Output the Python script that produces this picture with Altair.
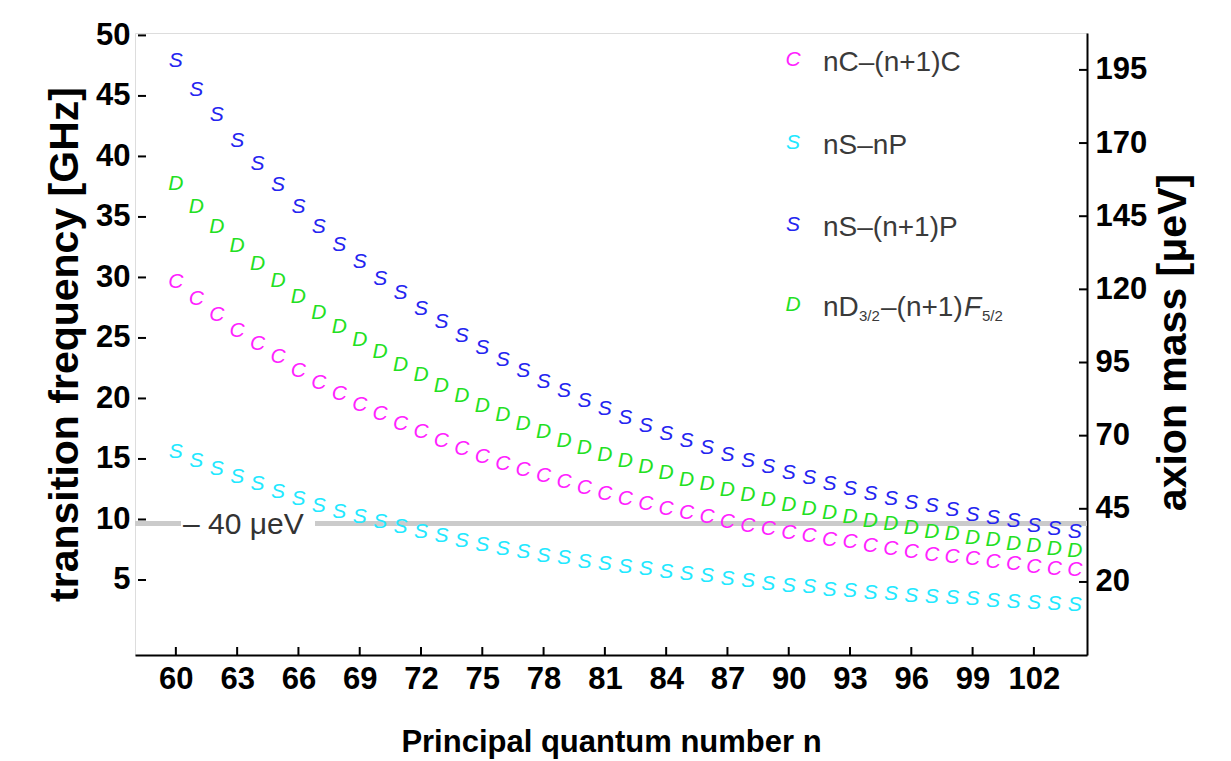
import altair as alt
import pandas as pd

# ---------------- data ----------------
n_values = list(range(60, 105))

# nC-(n+1)C  (magenta)
nC_C = [29.6, 28.2, 26.9, 25.6, 24.5, 23.4, 22.3, 21.3, 20.4, 19.5,
        18.7, 17.9, 17.2, 16.5, 15.8, 15.2, 14.6, 14.1, 13.6, 13.1,
        12.6, 12.1, 11.7, 11.3, 10.9, 10.5, 10.2, 9.8, 9.5, 9.2,
        8.9, 8.6, 8.3, 8.1, 7.8, 7.6, 7.3, 7.1, 6.9, 6.7,
        6.5, 6.3, 6.1, 5.9, 5.8]
# nS-nP (cyan)
nS_nP = [15.6, 14.8, 14.2, 13.5, 12.9, 12.3, 11.7, 11.1, 10.6, 10.2,
         9.8, 9.4, 9.0, 8.6, 8.2, 7.9, 7.6, 7.3, 7.0, 6.8,
         6.5, 6.3, 6.1, 5.9, 5.7, 5.5, 5.3, 5.1, 4.9, 4.7,
         4.5, 4.4, 4.2, 4.1, 3.9, 3.8, 3.7, 3.6, 3.5, 3.4,
         3.3, 3.2, 3.1, 3.0, 2.9]
# nS-(n+1)P (blue)
nS_n1P = [47.9, 45.5, 43.4, 41.3, 39.4, 37.6, 35.8, 34.2, 32.7, 31.3,
          29.9, 28.7, 27.4, 26.3, 25.2, 24.2, 23.2, 22.3, 21.4, 20.6,
          19.8, 19.1, 18.4, 17.7, 17.1, 16.5, 15.9, 15.3, 14.8, 14.3,
          13.8, 13.4, 12.9, 12.5, 12.1, 11.7, 11.4, 11.1, 10.8, 10.4,
          10.1, 9.9, 9.5, 9.2, 9.0]
# nD3/2-(n+1)F5/2 (green)
nD_n1F = [37.7, 35.8, 34.2, 32.6, 31.1, 29.7, 28.4, 27.1, 25.9, 24.8,
          23.8, 22.8, 21.9, 21.0, 20.2, 19.4, 18.6, 17.9, 17.2, 16.5,
          15.9, 15.3, 14.8, 14.3, 13.8, 13.3, 12.9, 12.4, 12.0, 11.6,
          11.2, 10.9, 10.5, 10.2, 9.9, 9.6, 9.3, 9.0, 8.8, 8.5,
          8.3, 8.0, 7.8, 7.6, 7.4]

series_names = ["nC–(n+1)C", "nS–nP", "nS–(n+1)P", "nD3/2–(n+1)F5/2"]
series_glyphs = ["C", "S", "S", "D"]
series_colors = ["#ff22ff", "#22e8ff", "#2424f0", "#22e022"]

x_ticks = [60, 63, 66, 69, 72, 75, 78, 81, 84, 87, 90, 93, 96, 99, 102]
y_ticks_ghz = [5, 10, 15, 20, 25, 30, 35, 40, 45, 50]
y_ticks_uev = [20, 45, 70, 95, 120, 145, 170, 195]
line_uev = [40]
line_label = ["– 40 μeV"]

GHZ_TO_UEV = 4.1357
Y_DOMAIN = [-1.2, 50.2]
X_DOMAIN = [58, 104.6]

FONT = "Liberation Sans"

W, H = 952, 622

rows = []
for name, glyph, vals in zip(series_names, series_glyphs, [nC_C, nS_nP, nS_n1P, nD_n1F]):
    for n, v in zip(n_values, vals):
        rows.append({"n": n, "ghz": v, "series": name, "glyph": glyph})
df = pd.DataFrame(rows)

# ---------------- encodings ----------------
x_enc = alt.X("n:Q", scale=alt.Scale(domain=X_DOMAIN, nice=False, zero=False),
              axis=alt.Axis(values=x_ticks, title="Principal quantum number n",
                            grid=False, ticks=False, domain=True, domainColor="black",
                            domainWidth=2, labelFont=FONT, labelFontSize=31,
                            labelFontWeight="bold", labelColor="black", labelPadding=9,
                            labelFlush=False, labelOverlap=False,
                            titleFont=FONT, titleFontSize=31, titleFontWeight="bold",
                            titleColor="black", titleBaseline="alphabetic", titleY=96))

y_left = alt.Y("ghz:Q", scale=alt.Scale(domain=Y_DOMAIN, nice=False, zero=False),
               axis=alt.Axis(orient="left", values=y_ticks_ghz,
                             title="transition frequency [GHz]", grid=False,
                             ticks=False, domain=False, labelFont=FONT,
                             labelFontSize=31, labelFontWeight="bold",
                             labelColor="black", labelPadding=5, labelOverlap=False,
                             labelFlush=False,
                             titleFont=FONT, titleFontSize=41, titleFontWeight="bold",
                             titleColor="black", titleAngle=270,
                             titleBaseline="alphabetic", titleAlign="center",
                             titleX=-58, titleY=311))

y_right = alt.Y("mev:Q",
                scale=alt.Scale(domain=[Y_DOMAIN[0] * GHZ_TO_UEV, Y_DOMAIN[1] * GHZ_TO_UEV],
                                nice=False, zero=False),
                axis=alt.Axis(orient="right", values=y_ticks_uev,
                              title="axion mass [μeV]", grid=False, ticks=False,
                              domain=True, domainColor="black", domainWidth=2,
                              labelFont=FONT, labelFontSize=31, labelFontWeight="bold",
                              labelColor="black", labelPadding=8, labelOverlap=False,
                              labelFlush=False,
                              titleFont=FONT, titleFontSize=41, titleFontWeight="bold",
                              titleColor="black", titleAngle=270,
                              titleBaseline="alphabetic", titleAlign="center",
                              titleX=98, titleY=309))

color_scale = alt.Scale(domain=series_names, range=series_colors)

# ---------------- right (μeV) group ----------------
uev_df = pd.DataFrame({"mev": line_uev, "label": line_label})
uev_ticks_df = pd.DataFrame({"mev": y_ticks_uev})

gray_line = alt.Chart(uev_df).mark_rule(color="#cbcbcb", strokeWidth=5).encode(y=y_right)
white_gap = alt.Chart(uev_df).mark_rule(color="white", strokeWidth=12).encode(
    y=y_right, x=alt.value(46), x2=alt.value(180))
line_text = alt.Chart(uev_df).mark_text(
    align="left", baseline="alphabetic", dy=11, font=FONT, fontSize=30,
    color="#333333").encode(y=y_right, x=alt.value(48), text="label:N")
right_ticks = alt.Chart(uev_ticks_df).mark_rule(color="black", strokeWidth=2).encode(
    y=y_right, x=alt.value(W - 8), x2=alt.value(W))

right_group = alt.layer(gray_line, white_gap, line_text, right_ticks)

# ---------------- left (GHz) group ----------------
points = alt.Chart(df).mark_text(
    font=FONT, fontSize=21, fontStyle="italic").encode(
    x=x_enc, y=y_left, text="glyph:N",
    color=alt.Color("series:N", scale=color_scale, legend=None))

ghz_ticks_df = pd.DataFrame({"ghz": y_ticks_ghz})
left_ticks = alt.Chart(ghz_ticks_df).mark_rule(color="black", strokeWidth=2).encode(
    y=y_left, x=alt.value(3), x2=alt.value(11))

xt_df = pd.DataFrame({"n": x_ticks})
x_tick_rules = alt.Chart(xt_df).mark_rule(color="black", strokeWidth=2).encode(
    x=x_enc, y=alt.value(H - 8), y2=alt.value(H))

# legend (manual, glyph markers)
legend_rows_y = [27, 110, 192, 272]
legend_layers = []
for i, (glyph, name, col) in enumerate(zip(series_glyphs, series_names, series_colors)):
    yv = legend_rows_y[i]
    legend_layers.append(
        alt.Chart(pd.DataFrame({"g": [glyph]})).mark_text(
            font=FONT, fontSize=21, fontStyle="italic", color=col,
            align="center", baseline="middle").encode(
            x=alt.value(658), y=alt.value(yv), text="g:N"))
    if i < 3:
        legend_layers.append(
            alt.Chart(pd.DataFrame({"t": [name]})).mark_text(
                font=FONT, fontSize=28, color="#3a3a3a", align="left",
                baseline="middle").encode(x=alt.value(688), y=alt.value(yv + 3), text="t:N"))

# 4th label with subscripts, built from pieces
pieces = [("nD", 688, 28, "normal", 3), ("3/2", 724, 15, "normal", 11),
          ("–(n+1)", 746, 28, "normal", 3), ("F", 829, 28, "italic", 3),
          ("5/2", 847, 15, "normal", 11)]
for txt, px, fs, style, off in pieces:
    legend_layers.append(
        alt.Chart(pd.DataFrame({"t": [txt]})).mark_text(
            font=FONT, fontSize=fs, fontStyle=style, color="#3a3a3a",
            align="left", baseline="middle").encode(
            x=alt.value(px), y=alt.value(legend_rows_y[3] + off), text="t:N"))

left_group = alt.layer(points, left_ticks, x_tick_rules, *legend_layers)

chart = alt.layer(right_group, left_group).resolve_scale(y="independent").properties(
    width=W, height=H,
    autosize=alt.AutoSizeParams(type="none"),
    padding={"left": 135, "top": 33, "right": 144, "bottom": 106},
).configure_view(strokeWidth=0).configure(background="white")

chart.save("out.html", embed_options={"renderer": "svg", "actions": False})
